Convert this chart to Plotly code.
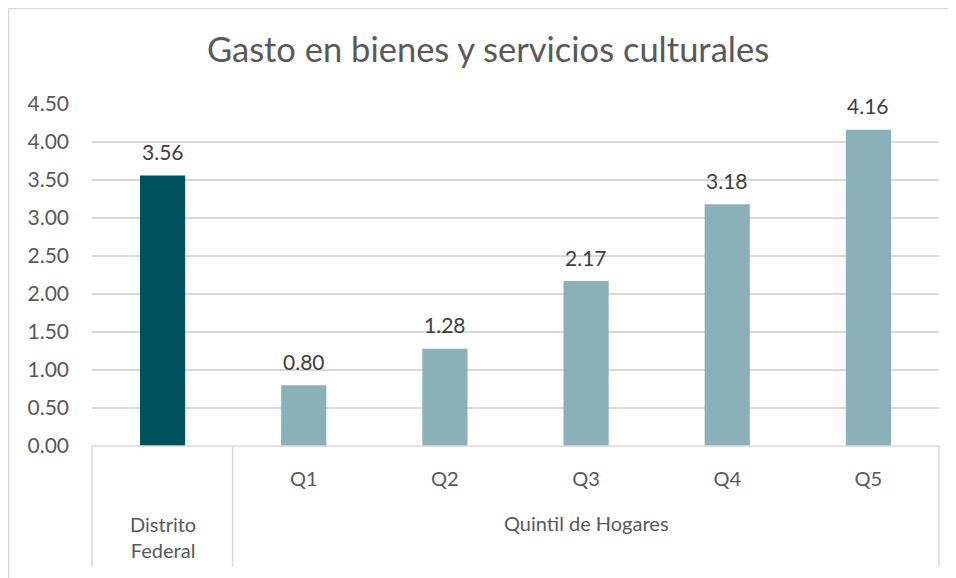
import plotly.graph_objects as go

categories = ["Distrito Federal", "Q1", "Q2", "Q3", "Q4", "Q5"]
tick_labels = ["", "Q1", "Q2", "Q3", "Q4", "Q5"]
values = [3.56, 0.80, 1.28, 2.17, 3.18, 4.16]
value_labels = ["3.56", "0.80", "1.28", "2.17", "3.18", "4.16"]
bar_colors = ["#00535E", "#8BB1B8", "#8BB1B8", "#8BB1B8", "#8BB1B8", "#8BB1B8"]
group_labels = ["Distrito<br>Federal", "Quintil de Hogares"]
group_centers = [0, 3]
y_ticks = [0, 0.5, 1.0, 1.5, 2.0, 2.5, 3.0, 3.5, 4.0, 4.5]

FONT = "Lato, 'Open Sans', sans-serif"
TXT = "#595959"
GRID = "#D9D9D9"

W, H = 956, 578
OFF = 8  # page body margin
# target screen positions of the plot area
L_s, R_s, T_s, B_s = 92, 939, 104, 446
L = L_s - OFF
T = T_s - OFF
R = W - (R_s - OFF)
B = H - (B_s - OFF)
pw = W - L - R
ph = H - T - B

def px_x(xs):
    return (xs - OFF - L) / pw

def px_y(ys):
    return (H - B - (ys - OFF)) / ph

fig = go.Figure()
fig.add_trace(go.Bar(
    x=list(range(len(categories))),
    y=values,
    marker=dict(color=bar_colors, line=dict(width=0)),
    width=0.32,
    hovertext=categories,
))

annotations = []
for i, (v, lab) in enumerate(zip(values, value_labels)):
    annotations.append(dict(x=i, y=v, xref="x", yref="y", text=lab,
                            showarrow=False, yanchor="middle", yshift=24,
                            font=dict(family=FONT, size=21, color="#404040")))

shapes = []
# outer chart border
shapes.append(dict(type="rect", xref="paper", yref="paper",
                   x0=px_x(8.5), x1=px_x(W + 40), y0=px_y(8.5), y1=px_y(H + 40),
                   line=dict(color="#D9D9D9", width=1.5), layer="below"))
# category axis divider lines
for xp in [92, 232.5, 939]:
    shapes.append(dict(type="line", xref="paper", yref="paper",
                       x0=px_x(xp), x1=px_x(xp), y0=0, y1=px_y(567),
                       line=dict(color=GRID, width=1.5)))
shapes.append(dict(type="line", xref="paper", yref="paper",
                   x0=0, x1=1, y0=0, y1=0, line=dict(color=GRID, width=1.5)))

annotations.append(dict(x=group_centers[0], y=px_y(537), xref="x", yref="paper",
                        text=group_labels[0], showarrow=False,
                        font=dict(family=FONT, size=20, color=TXT),
                        align="center", yanchor="middle"))
annotations.append(dict(x=group_centers[1], y=px_y(523), xref="x", yref="paper",
                        text=group_labels[1], showarrow=False,
                        font=dict(family=FONT, size=20, color=TXT),
                        yanchor="middle", xanchor="center"))

fig.update_layout(
    width=W, height=H,
    margin=dict(l=L, r=R, t=T, b=B),
    paper_bgcolor="white", plot_bgcolor="white",
    showlegend=False,
    title=dict(text="Gasto en bienes y servicios culturales",
               x=(488 - OFF) / W, xref="container", xanchor="center",
               y=1 - (50 - OFF) / H, yref="container", yanchor="middle",
               font=dict(family=FONT, size=34.5, color=TXT)),
    xaxis=dict(range=[-0.5, 5.5], tickvals=list(range(6)), ticktext=tick_labels,
               showgrid=False, zeroline=False, showline=False, ticks="",
               tickfont=dict(family=FONT, size=20, color=TXT),
               ticklabelstandoff=19, fixedrange=True),
    yaxis=dict(range=[0, 4.5], tickvals=y_ticks,
               ticktext=[f"{v:.2f}" for v in y_ticks],
               showgrid=True, gridcolor=GRID, gridwidth=1.5,
               zeroline=False, showline=False, ticks="",
               tickfont=dict(family=FONT, size=21, color=TXT),
               ticklabelstandoff=22, fixedrange=True),
    shapes=shapes,
    annotations=annotations,
)

fig.write_html("out.html")
